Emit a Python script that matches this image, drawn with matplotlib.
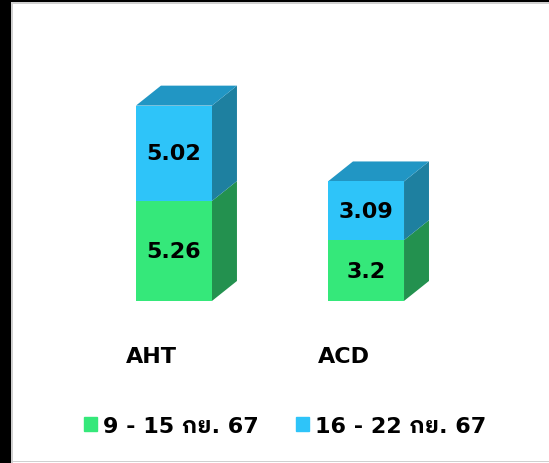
import matplotlib
matplotlib.use('Agg')
import matplotlib.pyplot as plt
from matplotlib.patches import Polygon, Rectangle, Patch
import numpy as np

# ข้อมูล
categories = ['AHT', 'ACD']
week1 = [5.26, 3.2]      # 9 - 15 กย. 67
week2 = [5.02, 3.09]     # 16 - 22 กย. 67
series_labels = ['9 - 15 กย. 67', '16 - 22 กย. 67']

fonts = ['DejaVu Sans', 'IBM Plex Sans Thai Looped', 'Noto Sans Thai']
plt.rcParams['font.family'] = fonts

green = '#35e87a'
green_side = '#23914f'
blue = '#2ec4f9'
blue_side = '#1e80a0'
blue_top = '#2196c4'

fig = plt.figure(figsize=(5.49, 4.64), dpi=100)
ax = fig.add_axes([0, 0, 1, 1])
ax.set_xlim(-0.906, 1.953)
ax.set_ylim(-8.53, 15.89)
ax.axis('off')

x = np.arange(len(categories))
w = 0.396
dx = 0.130   # ความลึกแนวนอน
dy = 1.05    # ความลึกแนวตั้ง

ax.bar(x, week1, width=w, color=green, zorder=3)
ax.bar(x, week2, width=w, bottom=week1, color=blue, zorder=3)

fs = 16
for i in range(len(categories)):
    r = x[i] + w / 2
    l = x[i] - w / 2
    g = week1[i]
    t = week1[i] + week2[i]
    # ด้านข้าง
    ax.add_patch(Polygon([(r, 0), (r, g), (r + dx, g + dy), (r + dx, dy)],
                         closed=True, color=green_side, zorder=2, lw=0))
    ax.add_patch(Polygon([(r, g), (r, t), (r + dx, t + dy), (r + dx, g + dy)],
                         closed=True, color=blue_side, zorder=2, lw=0))
    # ด้านบน
    ax.add_patch(Polygon([(l, t), (r, t), (r + dx, t + dy), (l + dx, t + dy)],
                         closed=True, color=blue_top, zorder=2, lw=0))
    ax.text(x[i], g / 2, f'{week1[i]:g}', ha='center', va='center',
            fontsize=fs, fontweight='bold', zorder=4)
    ax.text(x[i], g + week2[i] / 2, f'{week2[i]:g}', ha='center', va='center',
            fontsize=fs, fontweight='bold', zorder=4)
    ax.text(x[i] - 0.117, -2.89, categories[i], ha='center', va='center',
            fontsize=fs, fontweight='bold')

handles = [Patch(color=green), Patch(color=blue)]
leg = fig.legend(handles, series_labels, loc='center', bbox_to_anchor=(0.519, 0.080),
                 ncol=2, frameon=False, handlelength=0.6, handleheight=0.65,
                 handletextpad=0.25, columnspacing=1.7,
                 prop={'family': fonts, 'weight': 'bold', 'size': fs})

# กรอบ
W, H = 549, 464
fig.add_artist(Rectangle((0, 0), 11 / W, 1, transform=fig.transFigure, color='black', lw=0))
fig.add_artist(Rectangle((0, 1 - 3 / H), 1, 3 / H, transform=fig.transFigure, color='black', lw=0))
fig.add_artist(Rectangle((11 / W, 0), 1.5 / W, 1 - 3 / H, transform=fig.transFigure, color='#d0d0d0', lw=0))
fig.add_artist(Rectangle((11 / W, 1 - 4.5 / H), 1, 1.5 / H, transform=fig.transFigure, color='#d0d0d0', lw=0))
fig.add_artist(Rectangle((11 / W, 1 / H), 1, 1.5 / H, transform=fig.transFigure, color='#d0d0d0', lw=0))

fig.savefig('out.png', dpi=100)
